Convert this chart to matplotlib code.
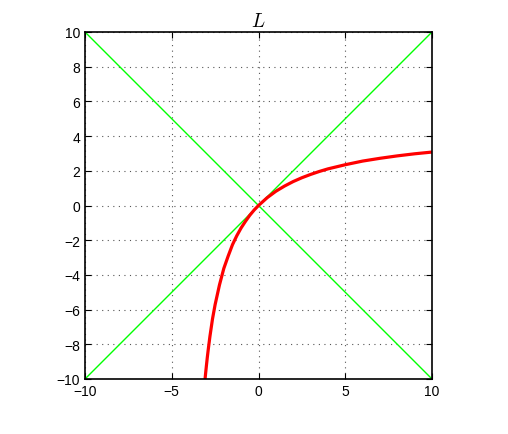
import matplotlib
matplotlib.use('Agg')
import matplotlib.pyplot as plt

plt.rcParams['font.family'] = ['Liberation Sans', 'DejaVu Sans']
plt.rcParams['mathtext.fontset'] = 'cm'

# diagonal reference lines
diag_x = [-10, 10]
diag_up = [-10, 10]
diag_down = [10, -10]

# red curve
curve_x = [-3.08, -3.05, -3.0, -2.95, -2.9, -2.8, -2.65, -2.5, -2.25, -2.0, -1.75, -1.5,
           -1.25, -1.0, -0.75, -0.5, -0.25, 0.0, 0.5, 1.0, 1.5, 2.0, 2.5, 3.0, 3.5,
           4.0, 5.0, 6.0, 7.0, 8.0, 9.0, 10.0]
curve_y = [-10.0, -9.69, -9.21, -8.75, -8.33, -7.55, -6.53, -5.71, -4.58, -3.63, -2.92, -2.26,
           -1.74, -1.29, -0.91, -0.56, -0.26, 0.0, 0.45, 0.82, 1.12, 1.38, 1.60, 1.79, 1.96,
           2.11, 2.35, 2.56, 2.72, 2.86, 2.98, 3.08]

ticks_x = [-10, -5, 0, 5, 10]
ticks_y = [-10, -8, -6, -4, -2, 0, 2, 4, 6, 8, 10]

fig = plt.figure(figsize=(5.08, 4.35), dpi=100)
ax = fig.add_axes([85/508, 55/435, 347/508, 347/435])

ax.plot(diag_x, diag_up, color=(0, 1, 0), lw=1)
ax.plot(diag_x, diag_down, color=(0, 1, 0), lw=1)
ax.plot(curve_x, curve_y, color='red', lw=2.3, solid_capstyle='butt')

ax.set_xlim(-10, 10)
ax.set_ylim(-10, 10)
ax.set_xticks(ticks_x)
ax.set_yticks(ticks_y)
ax.grid(True, linestyle=(0, (1, 4)), color='#555555', lw=0.8)
ax.tick_params(direction='in', length=4, labelsize=10, top=True, right=True)
for s in ax.spines.values():
    s.set_linewidth(1.2)

ax.set_title('$L$', fontsize=14, pad=4)

fig.savefig('out.png', dpi=100)
